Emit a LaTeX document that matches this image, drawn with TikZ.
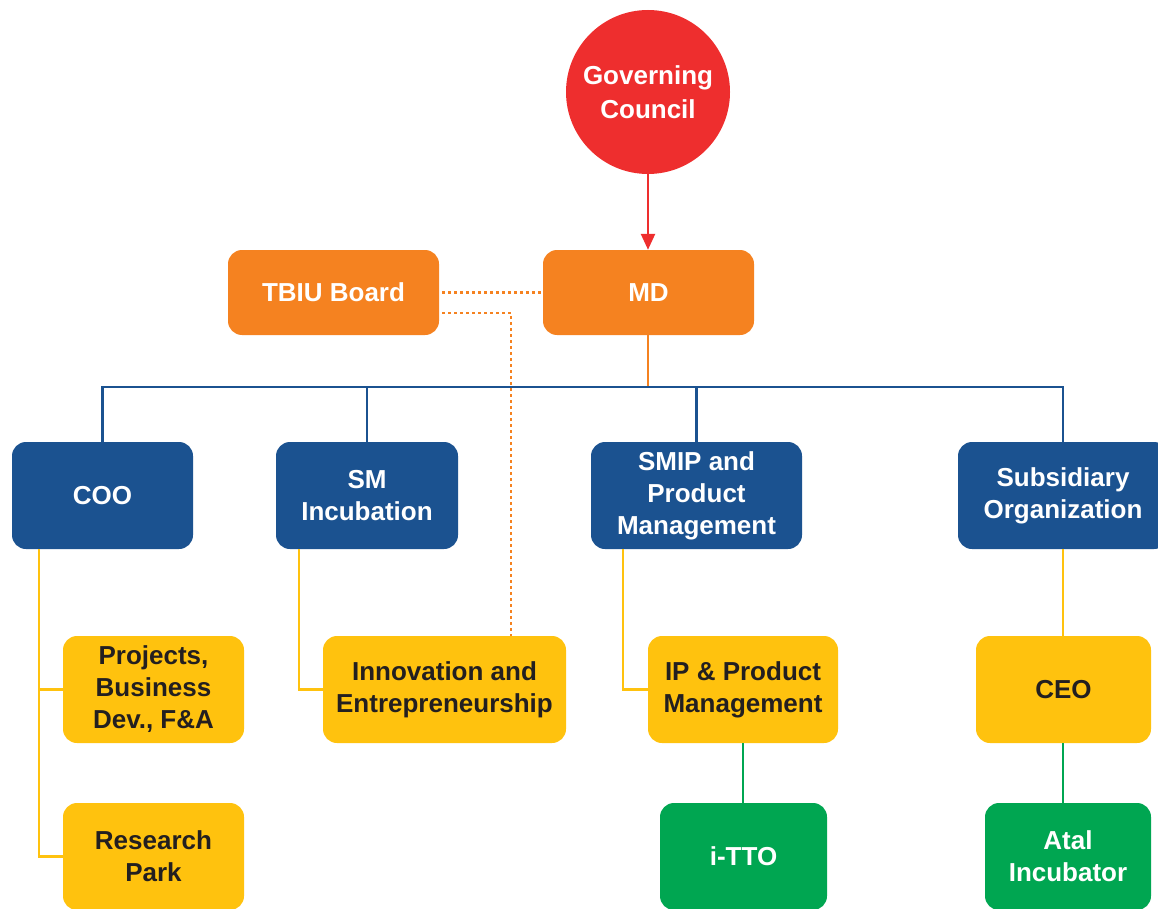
\documentclass[tikz,border=0pt]{standalone}
\usepackage{fontspec}
\setmainfont{Liberation Sans}
\usepackage{xcolor}
\usetikzlibrary{positioning, shapes, arrows.meta}
\definecolor{gcred}{HTML}{EE2E2E}
\definecolor{mdorange}{HTML}{F58220}
\definecolor{headblue}{HTML}{1B5290}
\definecolor{unityellow}{HTML}{FFC20E}
\definecolor{cellgreen}{HTML}{00A651}
\definecolor{inktext}{HTML}{231F20}
\begin{document}
\begin{tikzpicture}[x=1pt,y=-1pt,
    box/.style={rounded corners=14pt, inner sep=0pt, align=center, font=\fontsize{26}{32}\selectfont\bfseries},
    orangebox/.style={box, fill=mdorange, text=white, minimum width=211pt, minimum height=85pt},
    bluebox/.style={box, fill=headblue, text=white, minimum height=107pt},
    yellowbox/.style={box, fill=unityellow, text=inktext, minimum height=107pt},
    greenbox/.style={box, fill=cellgreen, text=white, minimum height=107pt},
    bluelink/.style={headblue, line width=2.5pt},
    yellowlink/.style={unityellow, line width=2.5pt},
    greenlink/.style={cellgreen, line width=2.5pt},
    dotlink/.style={mdorange, line width=2.5pt, dash pattern=on 2.5pt off 3.5pt}]
       \useasboundingbox (0,0) rectangle (1158,909);
       % top of the chart
       \node[circle, fill=gcred, text=white, minimum size=164pt, inner sep=0pt, align=center, font=\fontsize{26}{34}\selectfont\bfseries] (gc) at (648,92) {Governing\\Council};
       \node[orangebox] (md) at (648.5,292.5) {MD};
       \node[orangebox] (tbiu) at (333.5,292.5) {TBIU Board};
       % heads
       \node[bluebox, minimum width=181pt] (coo) at (102.5,495.5) {COO};
       \node[bluebox, minimum width=182pt] (sm) at (367,495.5) {SM\\Incubation};
       \node[bluebox, minimum width=211pt] (smip) at (696.5,495.5) {SMIP and\\Product\\Management};
       \node[bluebox, minimum width=210pt] (sub) at (1063,495.5) {Subsidiary\\Organization};
       % units
       \node[yellowbox, minimum width=181pt] (proj) at (153.5,689.5) {Projects,\\Business\\Dev., F\&A};
       \node[yellowbox, minimum width=181pt] (rp) at (153.5,856.5) {Research\\Park};
       \node[yellowbox, minimum width=243pt] (inn) at (444.5,689.5) {Innovation and\\Entrepreneurship};
       \node[yellowbox, minimum width=190pt] (ip) at (743,689.5) {IP \& Product\\Management};
       \node[yellowbox, minimum width=175pt] (ceo) at (1063.5,689.5) {CEO};
       \node[greenbox, minimum width=167pt] (itto) at (743.5,856.5) {i-TTO};
       \node[greenbox, minimum width=166pt] (atal) at (1068,856.5) {Atal\\Incubator};
       % connectors
       \draw[gcred, line width=2.5pt, -{Triangle[width=14pt,length=16pt]}] (gc.south) -- (gc.south|-md.north);
       \coordinate (bus) at (648,387);
       \draw[mdorange, line width=2.5pt] (md.south-|bus) -- (bus);
       \draw[bluelink] (coo.north) -- (coo.north|-bus) -- (sub.north|-bus) -- (sub.north);
       \draw[bluelink] (sm.north) -- (sm.north|-bus) (smip.north) -- (smip.north|-bus);
       \draw[dotlink, shorten <=3pt] (tbiu.east) -- (md.west);
       \draw[dotlink, shorten <=3pt] ([yshift=-20.5pt]tbiu.east) -| ([xshift=66.5pt]inn.north);
       \draw[yellowlink] ([xshift=-63.5pt]coo.south) |- (proj.west);
       \draw[yellowlink] ([xshift=-63.5pt]coo.south) |- (rp.west);
       \draw[yellowlink] ([xshift=-68pt]sm.south) |- (inn.west);
       \draw[yellowlink] ([xshift=-73.5pt]smip.south) |- (ip.west);
       \draw[yellowlink] (sub.south) -- (sub.south|-ceo.north);
       \draw[greenlink] (ip.south) -- (ip.south|-itto.north);
       \draw[greenlink] (sub.south|-ceo.south) -- (sub.south|-atal.north);
     \end{tikzpicture}
\end{document}
